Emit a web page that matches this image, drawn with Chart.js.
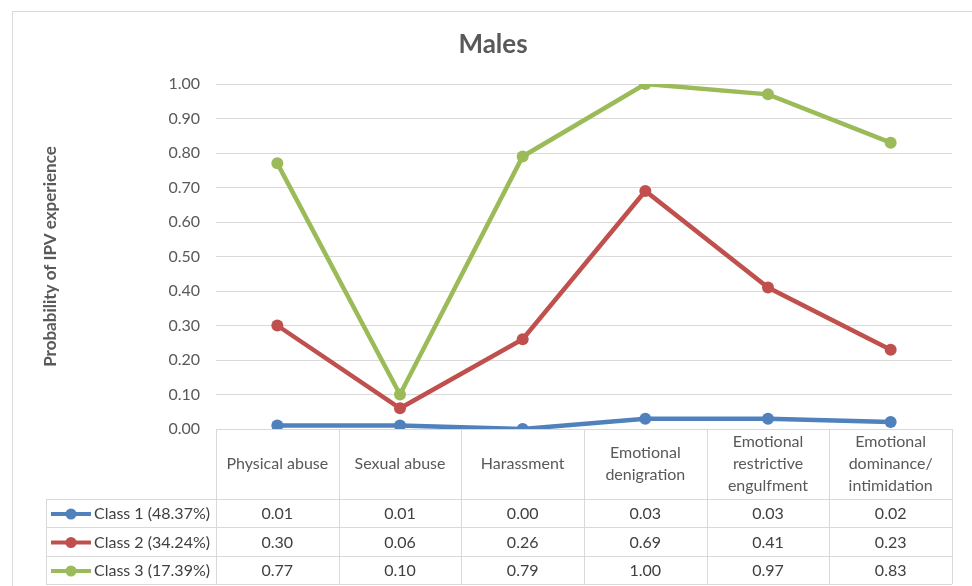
<!DOCTYPE html>
<html>
<head>
<meta charset="utf-8">
<script src="https://cdn.jsdelivr.net/npm/chart.js@4"></script>
<style>
  html, body { margin: 0; padding: 0; background: #fff; }
  #wrap { width: 972px; height: 586px; }
</style>
</head>
<body>
<div id="wrap"><canvas id="males" width="972" height="586"></canvas></div>
<script>
const categories = [
  'Physical abuse',
  'Sexual abuse',
  'Harassment',
  ['Emotional', 'denigration'],
  ['Emotional', 'restrictive', 'engulfment'],
  ['Emotional', 'dominance/', 'intimidation']
]
const seriesNames = ['Class 1 (48.37%)', 'Class 2 (34.24%)', 'Class 3 (17.39%)']
const class1 = [0.01, 0.01, 0.00, 0.03, 0.03, 0.02]
const class2 = [0.30, 0.06, 0.26, 0.69, 0.41, 0.23]
const class3 = [0.77, 0.10, 0.79, 1.00, 0.97, 0.83]
const yTicks = [0, 0.1, 0.2, 0.3, 0.4, 0.5, 0.6, 0.7, 0.8, 0.9, 1.0]

const colors = ['#4F81BD', '#C0504D', '#9BBB59']
const FONT = 'Lato, "Open Sans", sans-serif'
const GRID = '#D9D9D9'
const TEXT = '#595959'

// excel style data table under the axis
const tablePlugin = {
    id: 'dataTable',
    beforeDraw (chart) {
        const ctx = chart.ctx
        ctx.save()
        ctx.fillStyle = '#fff'
        ctx.fillRect(0, 0, chart.width, chart.height)
        ctx.strokeStyle = GRID
        ctx.lineWidth = 1
        ctx.strokeRect(12.5, 11.5, chart.width, chart.height)
        // title
        ctx.fillStyle = TEXT
        ctx.font = 'bold 26px ' + FONT
        ctx.textAlign = 'center'
        ctx.textBaseline = 'middle'
        ctx.fillText('Males', 493, 45)
        ctx.restore()
    },
    afterDraw (chart) {
        const ctx = chart.ctx
        const x = chart.scales.x
        const area = chart.chartArea
        const n = categories.length
        const colW = (area.right - area.left) / n
        const headBottom = area.bottom + 70
        const rowH = [28, 29, 28]
        const legendLeft = 46
        const rowTops = [headBottom]
        rowH.forEach((h, i) => rowTops.push(rowTops[i] + h))
        const tableBottom = rowTops[rowTops.length - 1]

        ctx.save()
        ctx.strokeStyle = GRID
        ctx.lineWidth = 1
        ctx.beginPath()
        for (let i = 0; i <= n; i++) {
            const px = Math.round(area.left + i * colW) + 0.5
            ctx.moveTo(px, area.bottom)
            ctx.lineTo(px, tableBottom)
        }
        rowTops.forEach(t => {
            ctx.moveTo(legendLeft, t + 0.5)
            ctx.lineTo(area.right, t + 0.5)
        })
        ctx.moveTo(legendLeft + 0.5, headBottom)
        ctx.lineTo(legendLeft + 0.5, tableBottom)
        ctx.stroke()

        const rows = [class1, class2, class3]
        ctx.font = '16px ' + FONT
        ctx.textBaseline = 'middle'
        rows.forEach((vals, r) => {
            const cy = rowTops[r] + rowH[r] / 2 + 1
            ctx.fillStyle = '#404040'
            ctx.textAlign = 'center'
            vals.forEach((v, i) => {
                ctx.fillText(v.toFixed(2), x.getPixelForValue(i), cy)
            })
            // legend key
            ctx.strokeStyle = colors[r]
            ctx.lineWidth = 4
            ctx.beginPath()
            ctx.moveTo(51, cy)
            ctx.lineTo(91, cy)
            ctx.stroke()
            ctx.fillStyle = colors[r]
            ctx.beginPath()
            ctx.arc(71, cy, 5.5, 0, Math.PI * 2)
            ctx.fill()
            ctx.fillStyle = '#404040'
            ctx.textAlign = 'left'
            ctx.fillText(seriesNames[r], 94, cy)
        })
        ctx.restore()
    }
}

const makeSet = (label, data, color) => ({
    label: label,
    data: data,
    borderColor: color,
    backgroundColor: color,
    borderWidth: 4.5,
    pointRadius: 6,
    pointHoverRadius: 6,
    pointBorderWidth: 0,
    tension: 0
})

const chart = new Chart(document.getElementById('males'), {
    type: 'line',
    data: {
        labels: categories,
        datasets: [
            makeSet(seriesNames[0], class1, colors[0]),
            makeSet(seriesNames[1], class2, colors[1]),
            makeSet(seriesNames[2], class3, colors[2])
        ]
    },
    plugins: [tablePlugin],
    options: {
        responsive: false,
        animation: false,
        events: [],
        layout: { padding: { top: 84, left: 12, right: 20, bottom: 0 } },
        plugins: {
            legend: { display: false },
            title: { display: false },
            tooltip: { enabled: false }
        },
        scales: {
            x: {
                offset: true,
                grid: { display: false },
                border: { display: false },
                ticks: {
                    color: TEXT,
                    font: { family: FONT, size: 16, lineHeight: 1.38 },
                    padding: 5,
                    maxRotation: 0,
                    autoSkip: false,
                    crossAlign: 'center'
                },
                afterFit: (scale) => { scale.height = 157 }
            },
            y: {
                min: 0,
                max: 1,
                afterBuildTicks: (scale) => { scale.ticks = yTicks.map(v => ({ value: v })) },
                grid: { color: GRID, lineWidth: 1, drawTicks: false },
                border: { display: false },
                ticks: {
                    color: TEXT,
                    font: { family: FONT, size: 16 },
                    padding: 16,
                    callback: (v) => Number(v).toFixed(2)
                },
                title: {
                    display: true,
                    text: 'Probability of IPV experience',
                    color: TEXT,
                    font: { family: FONT, size: 17, weight: 'bold' },
                    padding: { top: 28, bottom: 0 }
                },
                afterFit: (scale) => { scale.width = 204 }
            }
        }
    }
})
</script>
</body>
</html>
